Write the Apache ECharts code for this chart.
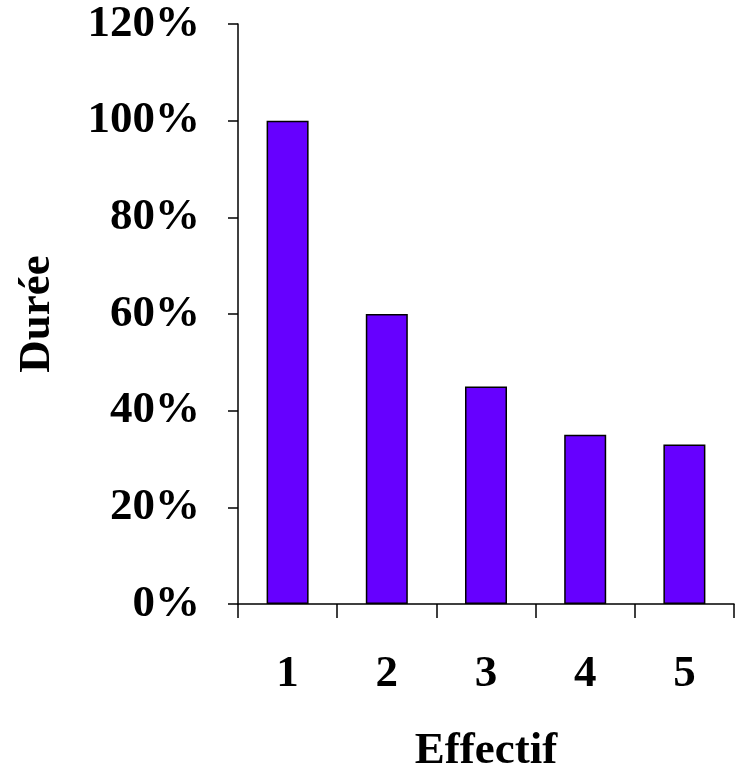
<!DOCTYPE html>
<html>
<head>
<meta charset="utf-8">
<script src="https://cdn.jsdelivr.net/npm/echarts@6/dist/echarts.min.js"></script>
<style>html,body{margin:0;padding:0;background:#fff}#c{width:739px;height:769px}</style>
</head>
<body>
<div id="c"></div>
<script>
const categories = ['1', '2', '3', '4', '5'];
const durationValues = [1.00, 0.60, 0.45, 0.35, 0.33];
const yTickValues = [0, 0.2, 0.4, 0.6, 0.8, 1.0, 1.2];

const font = '"Liberation Serif", "Times New Roman", serif';
const chart = echarts.init(document.getElementById('c'));
chart.setOption({
  animation: false,
  grid: { left: 238, right: 5, top: 24, bottom: 165, containLabel: false, outerBoundsMode: 'none' },
  xAxis: {
    type: 'category',
    data: categories,
    name: 'Effectif',
    nameLocation: 'middle',
    nameGap: 125,
    nameTextStyle: { fontFamily: font, fontWeight: 'bold', fontSize: 45, color: '#000' },
    axisLine: { lineStyle: { color: '#000', width: 1.5 } },
    axisTick: { show: true, length: 14, lineStyle: { color: '#000', width: 1.5 } },
    axisLabel: { margin: 48, fontFamily: font, fontWeight: 'bold', fontSize: 45, color: '#000' }
  },
  yAxis: {
    type: 'value',
    min: yTickValues[0],
    max: yTickValues[yTickValues.length - 1],
    interval: 0.2,
    name: 'Durée',
    nameLocation: 'middle',
    nameGap: 178,
    nameRotate: 90,
    nameTextStyle: { fontFamily: font, fontWeight: 'bold', fontSize: 45, color: '#000' },
    splitLine: { show: false },
    axisLine: { show: true, lineStyle: { color: '#000', width: 1.5 } },
    axisTick: { show: true, length: 10, lineStyle: { color: '#000', width: 1.5 } },
    axisLabel: {
      margin: 38, fontFamily: font, fontWeight: 'bold', fontSize: 45, color: '#000',
      padding: [8, 0, 0, 0],
      formatter: v => Math.round(v * 100) + '%'
    }
  },
  series: [{
    type: 'bar',
    data: durationValues,
    barWidth: 42,
    itemStyle: { color: '#6600FF', borderColor: '#000', borderWidth: 1.5 }
  }]
});
</script>
</body>
</html>
